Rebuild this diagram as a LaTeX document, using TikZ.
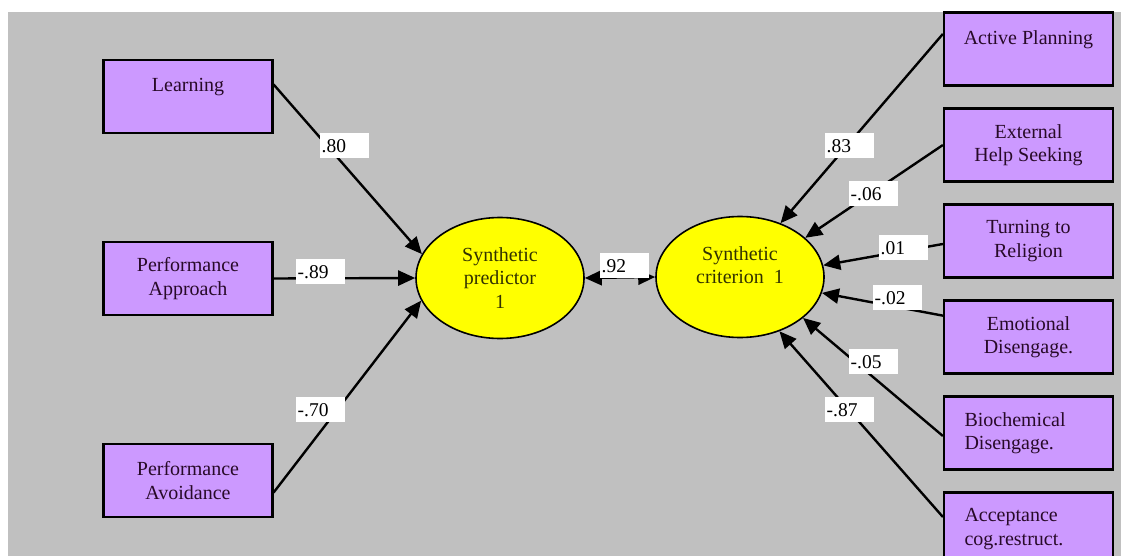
\documentclass[tikz,border=0pt]{standalone}
\usepackage{fontspec}
\setmainfont{Liberation Serif}
\usetikzlibrary{arrows.meta,shapes.geometric}
\definecolor{bggray}{RGB}{192,192,192}
\definecolor{boxlilac}{RGB}{204,153,255}
\definecolor{latyellow}{RGB}{255,255,0}
\definecolor{boxtext}{RGB}{40,10,40}
\definecolor{lattext}{RGB}{50,50,0}

\begin{document}
\begin{tikzpicture}[x=1pt,y=-1pt,->,>={Triangle[length=17pt,width=15pt]},line width=2.4pt,
obs node/.style={rectangle,draw,fill=boxlilac,text=boxtext,line width=2.2pt,minimum width=169pt,minimum height=73pt,inner sep=0pt,align=center,font=\fontsize{20}{23.5}\selectfont},
lat node/.style={ellipse,draw,fill=latyellow,text=lattext,line width=1.6pt,minimum width=168pt,minimum height=121pt,inner sep=0pt,align=center,font=\fontsize{20}{23.5}\selectfont},
coef node/.style={fill=white,anchor=north west,minimum width=49pt,minimum height=25pt,text width=46pt,inner sep=1.5pt,align=left,font=\fontsize{19.5}{22}\selectfont}]
\useasboundingbox (0,0) rectangle (1123,556);
\clip (0,0) rectangle (1123,556);
\fill[bggray,-] (8,12) rectangle (1121,556);
% predictors
\node[obs node] (p1) at (188,96.5) {Learning\\~};
\node[obs node] (p2) at (188,278.5) {Performance\\Approach};
\node[obs node] (p3) at (188,480.5) {Performance\\Avoidance};
% synthetic variables
\node[lat node] (sp) at (500,278) {Synthetic\\predictor\\1};
\node[lat node] (sc) at (740,277) {Synthetic\\criterion~~1\\~};
% criteria
\node[obs node] (c1) at (1028.5,49) {Active Planning\\~};
\node[obs node] (c2) at (1028.5,145) {External\\Help Seeking};
\node[obs node] (c3) at (1028.5,241) {Turning to\\Religion};
\node[obs node] (c4) at (1028.5,337) {Emotional\\Disengage.};
\node[obs node,text width=128pt,align=left] (c5) at (1028.5,433) {Biochemical\\Disengage.};
\node[obs node,text width=128pt,align=left] (c6) at (1028.5,529) {Acceptance\\cog.restruct.};
\draw (p1.8.5) -- (sp.163);
\draw (p2.east) -- (sp.west);
\draw (p3.-8) -- (sp.196);
\draw[<->] (sp.east) -- (sc.west);
\draw (c1.170.6) -- (sc.53.5);
\draw (c2.west) -- (sc.31);
\draw (c3.182.7) -- (sc.8);
\draw (c4.166) -- (sc.349);
\draw (c5.182.7) -- (sc.327);
\draw (c6.172) -- (sc.306.5);
% weights
\node[coef node] (w1) at (319,132) {.80};
\node[coef node] (w2) at (295,258) {-.89};
\node[coef node] (w3) at (295,396) {-.70};
\node[coef node] (r) at (599,252) {.92};
\node[coef node] (v1) at (824,132) {.83};
\node[coef node] (v2) at (848,180) {-.06};
\node[coef node] (v3) at (878,234) {.01};
\node[coef node] (v4) at (872,284) {-.02};
\node[coef node] (v5) at (848,348) {-.05};
\node[coef node] (v6) at (824,396) {-.87};
\end{tikzpicture}
\end{document}
